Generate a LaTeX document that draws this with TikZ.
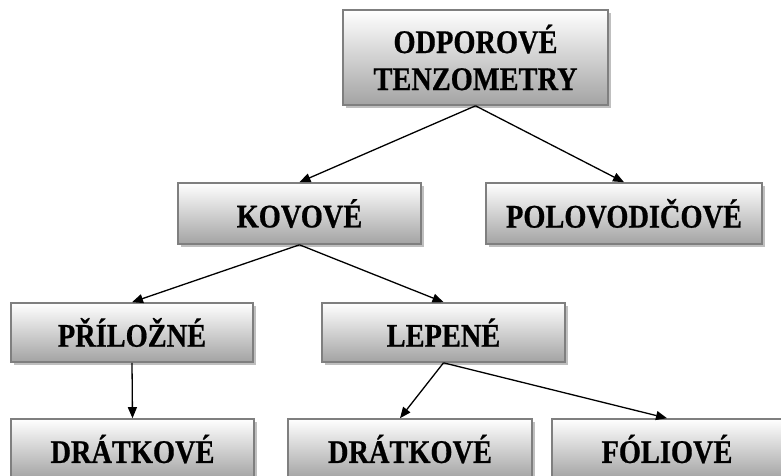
\documentclass[tikz,border=0pt]{standalone}
\usepackage{fontspec}
\setmainfont{Liberation Serif}[FakeStretch=0.86,FakeBold=0.6]
\usepackage{tikz}
\usetikzlibrary{arrows.meta,shadows}
\definecolor{edge}{HTML}{7F7F7F}
\definecolor{shade}{HTML}{A3A3A3}
\definecolor{ink}{HTML}{000000}
\tikzset{
  blok/.style={draw=edge, line width=1.6pt, top color=white, bottom color=shade,
    align=center, inner sep=0pt, text=ink,
    font=\fontsize{33}{37}\selectfont\bfseries,
    drop shadow={shadow xshift=3pt, shadow yshift=-3pt, opacity=0.25, fill=black}},
  link/.style={draw=ink, line width=1.3pt, -{Triangle[length=11pt,width=9pt]}},
}

\begin{document}
\begin{tikzpicture}[x=1pt,y=-1pt]
  \useasboundingbox (0,0) rectangle (781,475);

  % levels from top to bottom
  \node[blok, minimum width=265pt, minimum height=95pt] (root) at (475.5,57.5) {ODPOROVÉ\\TENZOMETRY};
  \node[blok, minimum width=243pt, minimum height=61pt] (kov) at (299.5,213.5) {KOVOVÉ};
  \node[blok, minimum width=276pt, minimum height=61pt] (pol) at (624,213.5) {POLOVODIČOVÉ};
  \node[blok, minimum width=242pt, minimum height=59pt] (pril) at (132,332.5) {PŘÍLOŽNÉ};
  \node[blok, minimum width=243pt, minimum height=59pt] (lep) at (443.5,332.5) {LEPENÉ};
  \node[blok, minimum width=243pt, minimum height=60pt] (drat1) at (132.5,449) {DRÁTKOVÉ};
  \node[blok, minimum width=244pt, minimum height=60pt] (drat2) at (410,449) {DRÁTKOVÉ};
  \node[blok, minimum width=230pt, minimum height=60pt] (fol) at (667,449) {FÓLIOVÉ};

  \draw[link] (root.south) -- (kov.north);
  \draw[link] (root.south) -- (pol.north);
  \draw[link] (kov.south) -- (pril.north);
  \draw[link] (kov.south) -- (lep.north);
  \draw[link] (pril.south) -- (drat1.north);
  \draw[link] (lep.south) -- ([xshift=-10pt]drat2.north);
  \draw[link] (lep.south) -- (fol.north);
\end{tikzpicture}
\end{document}
